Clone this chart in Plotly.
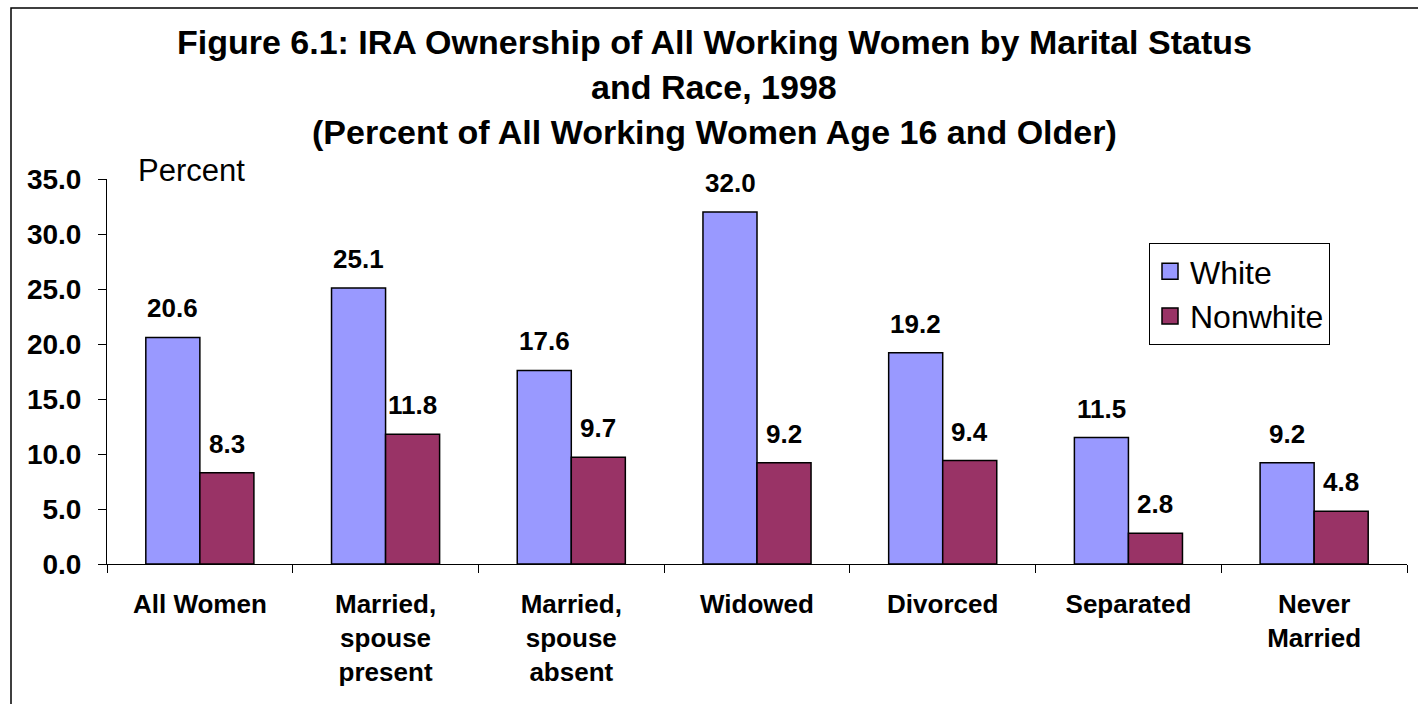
import plotly.graph_objects as go

# IRA ownership among working women, 1998 (percent)
categories = ["All Women", "Married,<br>spouse<br>present", "Married,<br>spouse<br>absent",
              "Widowed", "Divorced", "Separated", "Never<br>Married"]
white = [20.6, 25.1, 17.6, 32.0, 19.2, 11.5, 9.2]
nonwhite = [8.3, 11.8, 9.7, 9.2, 9.4, 2.8, 4.8]
y_ticks = [0, 5, 10, 15, 20, 25, 30, 35]
title_lines = ["Figure 6.1: IRA Ownership of All Working Women by Marital Status",
               "and Race, 1998",
               "(Percent of All Working Women Age 16 and Older)"]

FONT = "Arial, Liberation Sans, sans-serif"
W, H = 1418, 704
L, R, T, B = 107, 11, 179, 140
plot_w = W - L - R
plot_h = H - T - B


def px_x(x):
    return (x - L) / plot_w


def px_y(y):
    return (H - B - y) / plot_h


fig = go.Figure()
fig.add_trace(go.Bar(name="White", x=categories, y=white, showlegend=False,
                     marker=dict(color="#9999FF", line=dict(color="black", width=1.5))))
fig.add_trace(go.Bar(name="Nonwhite", x=categories, y=nonwhite, showlegend=False,
                     marker=dict(color="#993366", line=dict(color="black", width=1.5))))

# legend entries with larger square swatches
for name, col in (("White", "#9999FF"), ("Nonwhite", "#993366")):
    fig.add_trace(go.Scatter(name=name, x=[None], y=[None], mode="markers",
                             marker=dict(symbol="square", size=18, color=col,
                                         line=dict(color="black", width=1.5))))

# value labels above each bar
half = 27
for series, dx in ((white, -half), (nonwhite, half)):
    for c, v in zip(categories, series):
        fig.add_annotation(x=c, y=v, text=f"{v:.1f}", showarrow=False,
                           xshift=dx, yshift=12, yanchor="bottom",
                           font=dict(family=FONT, size=26, color="black", weight="bold"))

fig.add_annotation(xref="paper", yref="paper", x=px_x(136), y=px_y(170),
                   xanchor="left", yanchor="middle", text="Percent", showarrow=False,
                   font=dict(family=FONT, size=31, color="black"))

for line, yc in zip(title_lines, (42, 87, 132)):
    fig.add_annotation(xref="paper", yref="paper", x=px_x(714), y=px_y(yc),
                       xanchor="center", yanchor="middle", text=line, showarrow=False,
                       font=dict(family=FONT, size=34, color="black", weight="bold"))

# outer frame
fig.add_shape(type="rect", xref="paper", yref="paper",
              x0=px_x(11), x1=px_x(W + 10), y0=px_y(H + 10), y1=px_y(8),
              line=dict(color="black", width=1.5), fillcolor="rgba(0,0,0,0)", layer="above")

fig.update_layout(
    width=W, height=H,
    margin=dict(l=L, r=R, t=T, b=B),
    paper_bgcolor="white", plot_bgcolor="white",
    barmode="group", bargap=0.418, bargroupgap=0,
    legend=dict(x=px_x(1149), y=px_y(243), xanchor="left", yanchor="top",
                bordercolor="black", borderwidth=1, bgcolor="white",
                font=dict(family=FONT, size=32, color="black"),
                itemsizing="trace", tracegroupgap=0),
    font=dict(family=FONT, color="black"),
)
fig.update_xaxes(showline=True, linecolor="black", linewidth=1,
                 ticks="outside", ticklen=8, tickcolor="black", tickson="boundaries",
                 tickfont=dict(family=FONT, size=26, color="black", weight="bold"),
                 ticklabelstandoff=17, showgrid=False)
fig.update_yaxes(range=[0, 35], tickvals=y_ticks, ticktext=[f"{v:.1f}" for v in y_ticks],
                 showline=True, linecolor="black", linewidth=1,
                 ticks="outside", ticklen=8, tickcolor="black",
                 tickfont=dict(family=FONT, size=28, color="black", weight="bold"),
                 ticklabelstandoff=11, showgrid=False, zeroline=False)

fig.write_html("out.html")
